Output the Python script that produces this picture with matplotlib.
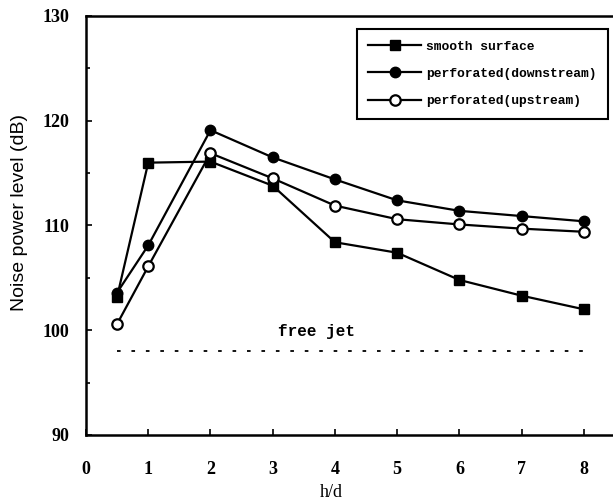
import matplotlib
matplotlib.use('Agg')
import matplotlib.pyplot as plt
from matplotlib.ticker import MultipleLocator

# h/d positions and measured noise power levels (dB)
h_d = [0.5, 1, 2, 3, 4, 5, 6, 7, 8]
smooth = [103.2, 116.0, 116.1, 113.8, 108.4, 107.4, 104.8, 103.3, 102.0]
perf_down = [103.6, 108.1, 119.1, 116.5, 114.4, 112.4, 111.4, 110.9, 110.4]
perf_up = [100.6, 106.1, 116.9, 114.5, 111.9, 110.6, 110.1, 109.7, 109.4]
free_jet_level = 98.0
free_jet_span = [0.5, 8]

serif = ['Liberation Serif', 'DejaVu Serif']
sans = ['Liberation Sans', 'DejaVu Sans']
mono = ['Liberation Mono', 'DejaVu Sans Mono']

fig = plt.figure(figsize=(6.13, 5.01), dpi=100)
ax = fig.add_axes([86 / 613, 66 / 501, 529 / 613, 419 / 501])

ax.plot(h_d, smooth, color='black', lw=1.6, marker='s', ms=7.5,
        mfc='black', mec='black', label='smooth surface')
ax.plot(h_d, perf_down, color='black', lw=1.6, marker='o', ms=7.5,
        mfc='black', mec='black', label='perforated(downstream)')
ax.plot(h_d, perf_up, color='black', lw=1.6, marker='o', ms=7.5,
        mfc='white', mec='black', mew=1.6, label='perforated(upstream)')

ax.plot(free_jet_span, [free_jet_level, free_jet_level], color='black',
        lw=1.3, linestyle=(0, (2, 6)))
ax.text(3.7, 99.85, 'free jet', family=mono, fontweight='bold',
        fontsize=11.5, ha='center', va='center')

ax.set_xlim(0, 8.5)
ax.set_ylim(90, 130)
ax.xaxis.set_major_locator(MultipleLocator(1))
ax.yaxis.set_major_locator(MultipleLocator(10))
ax.yaxis.set_minor_locator(MultipleLocator(5))
ax.tick_params(axis='both', which='both', direction='in', width=1.2,
               labelsize=13)
ax.tick_params(axis='y', which='major', length=4, pad=12)
ax.tick_params(axis='y', which='minor', length=3)
ax.tick_params(axis='x', length=4, top=False, pad=19)
for lab in ax.get_xticklabels() + ax.get_yticklabels():
    lab.set_family(serif)
    lab.set_fontweight('bold')

ax.spines['right'].set_visible(False)
for side in ['left', 'bottom', 'top']:
    ax.spines[side].set_linewidth(1.8)

ax.set_xlabel('h/d', family=serif, fontsize=13)
ax.set_ylabel('Noise power level (dB)', family=sans, fontsize=14)
ax.xaxis.set_label_coords(0.463, -0.117)
ax.yaxis.set_label_coords(-0.110, 0.532)

leg = ax.legend(loc='upper right', bbox_to_anchor=(0.987, 0.969),
                borderaxespad=0, fancybox=False, framealpha=1,
                edgecolor='black', handlelength=4.0, handletextpad=0.4,
                labelspacing=1.15, borderpad=0.9,
                prop={'family': mono, 'weight': 'bold', 'size': 9.4})
leg.get_frame().set_linewidth(1.5)

fig.savefig('out.png', dpi=100)
